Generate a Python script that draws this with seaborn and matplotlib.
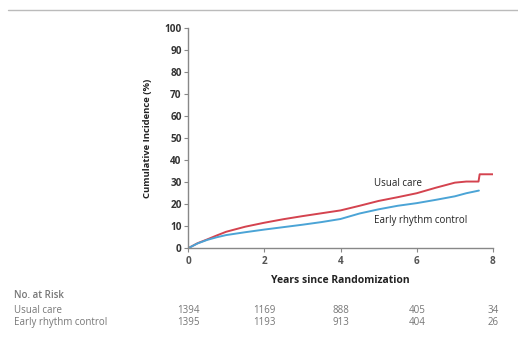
import matplotlib
matplotlib.use("Agg")
import matplotlib.pyplot as plt
import seaborn as sns
import pandas as pd

# Data
usual_t = [0, 0.25, 0.5, 0.75, 1.0, 1.5, 2.0, 2.5, 3.0, 3.5, 4.0, 4.5, 5.0, 5.5, 6.0, 6.5, 7.0, 7.3, 7.62, 7.65, 8.05]
usual_v = [0, 2.3, 4.0, 5.8, 7.5, 9.8, 11.6, 13.2, 14.6, 15.9, 17.2, 19.3, 21.5, 23.2, 25.0, 27.5, 29.8, 30.3, 30.3, 33.6, 33.6]
early_t = [0, 0.25, 0.5, 0.75, 1.0, 1.5, 2.0, 2.5, 3.0, 3.5, 4.0, 4.5, 5.0, 5.5, 6.0, 6.5, 7.0, 7.3, 7.63]
early_v = [0, 2.2, 3.8, 5.0, 6.0, 7.3, 8.5, 9.6, 10.7, 11.9, 13.3, 15.8, 17.7, 19.3, 20.5, 22.0, 23.6, 25.0, 26.2]

groups = ["Usual care", "Early rhythm control"]
risk_times = [0, 2, 4, 6, 8]
risk_usual = ["1394", "1169", "888", "405", "34"]
risk_early = ["1395", "1193", "913", "404", "26"]
x_ticks = [0, 2, 4, 6, 8]
y_ticks = list(range(0, 101, 10))

df = pd.concat([
    pd.DataFrame({"t": usual_t, "v": usual_v, "g": groups[0]}),
    pd.DataFrame({"t": early_t, "v": early_v, "g": groups[1]}),
])

sns.set_style("white")
plt.rcParams["font.family"] = ["Open Sans", "DejaVu Sans"]

fig = plt.figure(figsize=(5.18, 3.41), dpi=100)
ax = fig.add_axes([188 / 518, 1 - 248.3 / 341, (493 - 188) / 518, (248.3 - 28) / 341])

palette = {groups[0]: "#d4434f", groups[1]: "#4ba4d6"}
sns.lineplot(data=df, x="t", y="v", hue="g", palette=palette,
             linewidth=1.4, legend=False, ax=ax, sort=False, estimator=None)

ax.set_xlim(0, 8)
ax.set_ylim(0, 100)
ax.set_xticks(x_ticks)
ax.set_yticks(y_ticks)
ax.set_xticklabels([str(t) for t in x_ticks], fontsize=7.2, fontweight="bold", color="#555555")
ax.set_yticklabels([str(t) for t in y_ticks], fontsize=7.2, fontweight="bold", color="#333333")
for s in ["top", "right"]:
    ax.spines[s].set_visible(False)
for s in ["left", "bottom"]:
    ax.spines[s].set_color("#888888")
    ax.spines[s].set_linewidth(1.0)
ax.tick_params(axis="both", direction="out", length=3, width=0.8, color="#888888", pad=1.5,
               bottom=True, left=True)
ax.tick_params(axis="x", pad=2.5)
ax.set_xlabel("Years since Randomization", fontsize=7.5, fontweight="bold", color="#222222", labelpad=6)
ax.set_ylabel("Cumulative Incidence (%)", fontsize=6.8, fontweight="bold", color="#222222", labelpad=9)

ax.text(4.88, 29.4, groups[0], fontsize=7, color="#222222", va="center", ha="left")
ax.text(4.88, 12.5, groups[1], fontsize=7, color="#222222", va="center", ha="left")

# top rule
fig.add_artist(plt.Line2D([8 / 518, 1.0], [1 - 9.5 / 341, 1 - 9.5 / 341], color="#bbbbbb", linewidth=1.0))

# risk table
gray = "#777777"
fig.text(14 / 518, 1 - 296 / 341, "No. at Risk", fontsize=7, color=gray, va="center", ha="left", fontweight="semibold")
fig.text(14 / 518, 1 - 310.5 / 341, groups[0], fontsize=7, color=gray, va="center", ha="left")
fig.text(14 / 518, 1 - 322.5 / 341, groups[1], fontsize=7, color=gray, va="center", ha="left")
for t, u, e in zip(risk_times, risk_usual, risk_early):
    xf = (188 + t * (493 - 188) / 8) / 518
    fig.text(xf, 1 - 310.5 / 341, u, fontsize=7, color=gray, va="center", ha="center")
    fig.text(xf, 1 - 322.5 / 341, e, fontsize=7, color=gray, va="center", ha="center")

fig.savefig("out.png", dpi=100)
